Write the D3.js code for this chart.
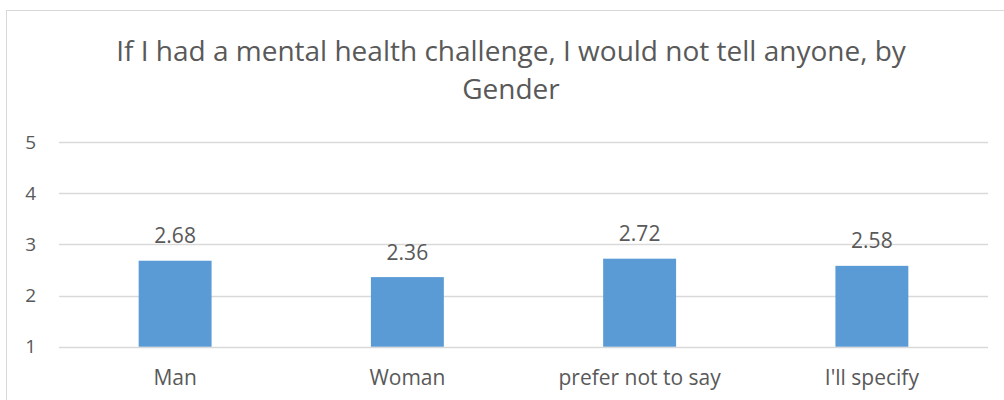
<!DOCTYPE html>
<html>
<head>
<meta charset="utf-8">
<script src="https://cdn.jsdelivr.net/npm/d3@7"></script>
<style>
  html, body { margin: 0; padding: 0; background: #fff; }
  svg { display: block; }
  text { font-family: "Open Sans", "Liberation Sans", sans-serif; fill: #595959; }
</style>
</head>
<body>
<script>
// Mean agreement score by gender
const categories = ["Man", "Woman", "prefer not to say", "I'll specify"];
const values = [2.68, 2.36, 2.72, 2.58];
const yTicks = [1, 2, 3, 4, 5];
const titleLines = ["If I had a mental health challenge, I would not tell anyone, by", "Gender"];

const W = 1004, H = 400;
const svg = d3.select("body").append("svg").attr("width", W).attr("height", H);

// chart frame
svg.append("rect")
  .attr("x", 6.5).attr("y", 10.5)
  .attr("width", 1004).attr("height", 400)
  .attr("fill", "#fff").attr("stroke", "#d9d9d9").attr("stroke-width", 1);

const plot = { left: 59, right: 988, top: 142, bottom: 346.7 };

const x = d3.scaleBand().domain(categories)
  .range([plot.left, plot.right]).paddingInner(0.686).paddingOuter(0.343);
const y = d3.scaleLinear().domain([1, 5]).range([plot.bottom, plot.top]);

// title
svg.append("text")
  .attr("text-anchor", "middle")
  .attr("font-size", 28)
  .selectAll("tspan").data(titleLines).join("tspan")
  .attr("x", 511).attr("y", (d, i) => 61 + i * 38)
  .text(d => d);

// gridlines
svg.append("g").selectAll("line").data(yTicks).join("line")
  .attr("x1", plot.left).attr("x2", plot.right)
  .attr("y1", d => Math.round(y(d)) + 0.5).attr("y2", d => Math.round(y(d)) + 0.5)
  .attr("stroke", "#d9d9d9").attr("stroke-width", 1.5);

// y axis labels
const yAxis = d3.axisLeft(y).tickValues(yTicks).tickSize(0).tickPadding(0).tickFormat(d3.format("d"));
const gy = svg.append("g").attr("transform", "translate(36,0)").call(yAxis);
gy.select(".domain").remove();
gy.selectAll("text").attr("font-size", 19).attr("fill", "#595959")
  .attr("font-family", "'Open Sans', 'Liberation Sans', sans-serif");

// bars
svg.append("g").selectAll("rect").data(values).join("rect")
  .attr("x", (d, i) => x(categories[i]))
  .attr("width", x.bandwidth())
  .attr("y", d => y(d))
  .attr("height", d => y(1) - y(d))
  .attr("fill", "#5b9bd5");

// value labels
svg.append("g").selectAll("text").data(values).join("text")
  .attr("x", (d, i) => x(categories[i]) + x.bandwidth() / 2)
  .attr("y", d => y(d) - 17.5)
  .attr("text-anchor", "middle")
  .attr("font-size", 21)
  .text(d => d.toFixed(2));

// category labels
const xAxis = d3.axisBottom(x).tickSize(0).tickPadding(0);
const gx = svg.append("g").attr("transform", "translate(0,370)").call(xAxis);
gx.select(".domain").remove();
gx.selectAll("text").attr("font-size", 21).attr("fill", "#595959")
  .attr("font-family", "'Open Sans', 'Liberation Sans', sans-serif");
</script>
</body>
</html>
